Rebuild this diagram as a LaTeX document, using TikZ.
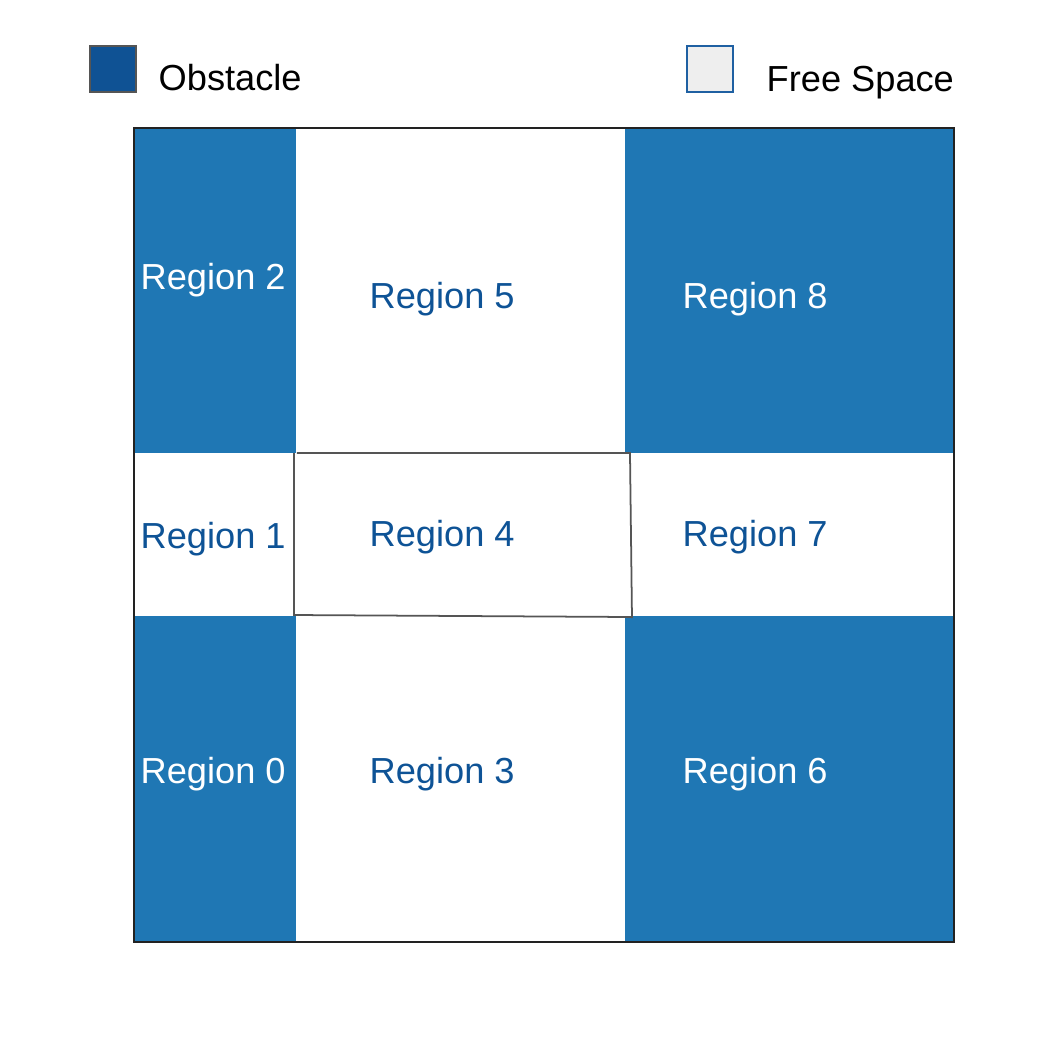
\documentclass[tikz,border=0pt]{standalone}
\usepackage{fontspec}
\setmainfont{Liberation Sans}
\usepackage{tikz}
\usetikzlibrary{positioning}
\definecolor{obstblue}{HTML}{1F77B4}
\definecolor{keyblue}{HTML}{0F5294}
\definecolor{freeblue}{HTML}{0E5396}
\definecolor{keygray}{HTML}{EEEEEE}
\definecolor{keyedge}{HTML}{1F60A2}
\definecolor{edgegray}{HTML}{555555}
\definecolor{framegray}{HTML}{222222}

\begin{document}
\begin{tikzpicture}[
    x=0.01cm, y=-0.01cm,
    % 1. Celdas del mapa
    obstcell/.style={fill=obstblue},
    freecell/.style={fill=white},
    % 2. Textos de las regiones
    regtext/.style={font=\fontsize{10.3}{12}\selectfont, inner sep=0pt, anchor=base west},
    obsttext/.style={regtext, text=white},
    freetext/.style={regtext, text=freeblue},
    % 3. Leyenda
    keybox/.style={minimum size=0.46cm, inner sep=0pt, line width=0.6pt},
    keytext/.style={regtext, text=black}
]
    \useasboundingbox[fill=white] (0,0) rectangle (1059,1059);

    % --- LEYENDA ---
    \node[keybox, fill=keyblue, draw=edgegray] (keyobs) at (113,69) {};
    \node[keybox, fill=keygray, draw=keyedge] (keyfree) at (710,69) {};
    \node[keytext] (txtobs) at (158,90) {Obstacle};
    \node[keytext] (txtfree) at (766,91) {Free Space};

    % --- CELDAS ---
    \fill[obstcell] (134,128) rectangle (296,453);
    \fill[freecell] (296,128) rectangle (625,453);
    \fill[obstcell] (625,128) rectangle (954,453);
    \fill[obstcell] (134,616) rectangle (296,942);
    \fill[freecell] (296,616) rectangle (625,942);
    \fill[obstcell] (625,616) rectangle (954,942);

    % --- REGION 4 ---
    \draw[edgegray, line width=0.5pt] (294,453) -- (294,616);
    \draw[edgegray, line width=0.5pt] (297,453) -- (630,453) -- (632,618);
    \draw[edgegray, line width=0.5pt] (294,615) -- (632,617);

    % --- MARCO ---
    \draw[framegray, line width=0.45pt] (134,128) rectangle (954,942);

    % --- FILA 1 ---
    \node[obsttext] (r2) at (140,289) {Region 2};
    \node[freetext] (r5) at (369,308) {Region 5};
    \node[obsttext] (r8) at (682,308) {Region 8};

    % --- FILA 2 ---
    \node[freetext] (r1) at (140,548) {Region 1};
    \node[freetext] (r4) at (369,546) {Region 4};
    \node[freetext] (r7) at (682,546) {Region 7};

    % --- FILA 3 ---
    \node[obsttext] (r0) at (140,783) {Region 0};
    \node[freetext] (r3) at (369,783) {Region 3};
    \node[obsttext] (r6) at (682,783) {Region 6};

\end{tikzpicture}
\end{document}
